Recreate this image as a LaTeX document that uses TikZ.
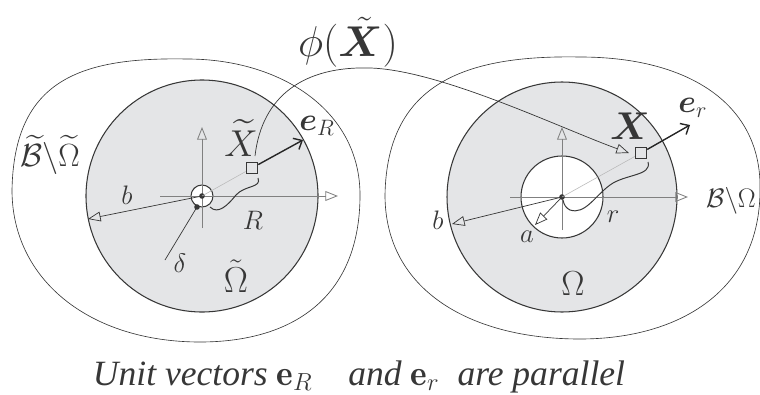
\documentclass[tikz,border=0pt]{standalone}
\usepackage{amsmath,amssymb,bm}
\usepackage{fontspec}
\newfontfamily\capfont{Liberation Serif}
\usetikzlibrary{arrows.meta}
\definecolor{diskgray}{RGB}{228,229,231}
\definecolor{inkgray}{RGB}{55,55,55}

\begin{document}
\begin{tikzpicture}[x=0.025cm,y=-0.025cm,
    every node/.style={font=\fontsize{17.28}{20}\selectfont, text=inkgray, scale=1.1},
    blob/.style={draw=inkgray, line width=0.45pt},
    disk/.style={fill=diskgray, draw=inkgray, line width=0.75pt},
    hole/.style={fill=white, draw=inkgray, line width=0.75pt},
    axis/.style={draw=gray, line width=0.6pt, -{Triangle[open,length=9pt,width=7pt]}},
    opentip/.style={draw=inkgray, line width=0.5pt, -{Triangle[open,length=9pt,width=7pt]}},
    unitvec/.style={draw=black!85, line width=1pt, -{Straight Barb[length=5pt,width=9pt]}},
    ray/.style={draw=gray!55, line width=0.4pt},
    curly/.style={draw=inkgray, line width=0.7pt},
    pointbox/.style={draw=inkgray, fill=diskgray, line width=0.6pt, minimum size=7.5pt, inner sep=0pt, scale=1}]
    \useasboundingbox (0,0) rectangle (760,394);

    % reference body and current body
    \draw[blob] (12,190) .. controls (14,80) and (80,57) .. (187,59) .. controls (280,59) and (360,110) .. (360,195)
        .. controls (360,300) and (290,342) .. (200,342) .. controls (90,342) and (12,280) .. cycle;
    \draw[blob] (385,195) .. controls (387,80) and (470,55) .. (580,57) .. controls (690,57) and (762,105) .. (760,190)
        .. controls (760,290) and (680,339) .. (580,339) .. controls (470,339) and (385,290) .. cycle;

    \coordinate (Lc) at (202,196);
    \coordinate (Rc) at (562,197);
    \filldraw[disk] (Lc) circle[radius=116];
    \filldraw[disk] (Rc) circle[radius=115];
    \filldraw[hole] (Lc) circle[radius=11];
    \filldraw[hole] (Rc) circle[radius=41];

    % axes
    \draw[axis] (160,196) -- (338,196);
    \draw[axis] (202,228) -- (202,127);
    \draw[axis] (510,197) -- (688,197);
    \draw[axis] (562,230) -- (562,127);

    % radii
    \coordinate (Lb) at (88,219);
    \coordinate (Ldot) at (197,207);
    \coordinate (Ldelta) at (165,260);
    \coordinate (Rb) at (452,224);
    \coordinate (Ra) at (535,225);
    \draw[opentip] (Lc) -- (Lb);
    \draw[opentip] (Rc) -- (Rb);
    \draw[opentip] (Rc) -- (Ra);
    \draw[inkgray, line width=0.5pt] (Ldot) -- (Ldelta);
    \fill[inkgray] (Lc) circle[radius=2.8];
    \fill[inkgray] (Ldot) circle[radius=2.8];
    \fill[inkgray] (Rc) circle[radius=2.8];

    % material points and unit vectors
    \node[pointbox] (Xt) at (252,168) {};
    \node[pointbox] (Xr) at (641,153) {};
    \coordinate (eRtip) at (303,140);
    \coordinate (ertip) at (690,125);
    \draw[ray] (Lc) -- (Xt);
    \draw[ray] (Rc) -- (Xr);
    \draw[unitvec] (Xt) -- (eRtip);
    \draw[unitvec] (Xr) -- (ertip);

    \draw[curly] (258,178) .. controls (262,188) and (245,185) .. (236,195) .. controls (228,205) and (218,215) .. (210,207);
    \draw[curly] (648,162) .. controls (652,176) and (625,174) .. (610,185) .. controls (595,196) and (585,215) .. (570,210) .. controls (566,208) and (564,205) .. (563,200);

    % the map
    \coordinate (mapstart) at (255,156);
    \coordinate (mapend) at (629,153);
    \draw[opentip] (mapstart) .. controls (262,95) and (305,66) .. (370,68) .. controls (440,70) and (560,128) .. (mapend);

    \node (phi) at (348,42) [font=\fontsize{24.88}{28}\selectfont, scale=1.12] {$\phi(\tilde{\boldsymbol{X}})$};
    \node (Lbdry) at (50,155) [scale=1.2] {$\widetilde{\mathcal{B}}\backslash\widetilde{\Omega}$};
    \node (Rbdry) at (731,201) {$\mathcal{B}\backslash\Omega$};
    \node (Lblab) at (127,195) {$b$};
    \node (Rblab) at (438,220) {$b$};
    \node (alab) at (527,237) {$a$};
    \node (Rlab) at (253,220) {$R$};
    \node (rlab) at (613,217) {$r$};
    \node (dlab) at (180,263) {$\delta$};
    \node (Xtlab) at (241,138) [scale=1.4] {$\widetilde{X}$};
    \node (Xlab) at (630,126) [scale=1.45] {$\boldsymbol{X}$};
    \node (eRlab) at (317,126) [scale=1.2] {$\boldsymbol{e}_R$};
    \node (erlab) at (693,108) [scale=1.2] {$\boldsymbol{e}_r$};
    \node (Ltilde) at (236,276) [scale=1.35] {$\tilde{\Omega}$};
    \node (Romega) at (573,284) [scale=1.3] {$\Omega$};
    \node (caption) at (359,377) [font=\capfont\itshape\fontsize{17.28}{20}\selectfont, scale=1.33] {Unit vectors $\mathbf{e}_R$\quad and $\mathbf{e}_r$\ \ are parallel};
\end{tikzpicture}
\end{document}
